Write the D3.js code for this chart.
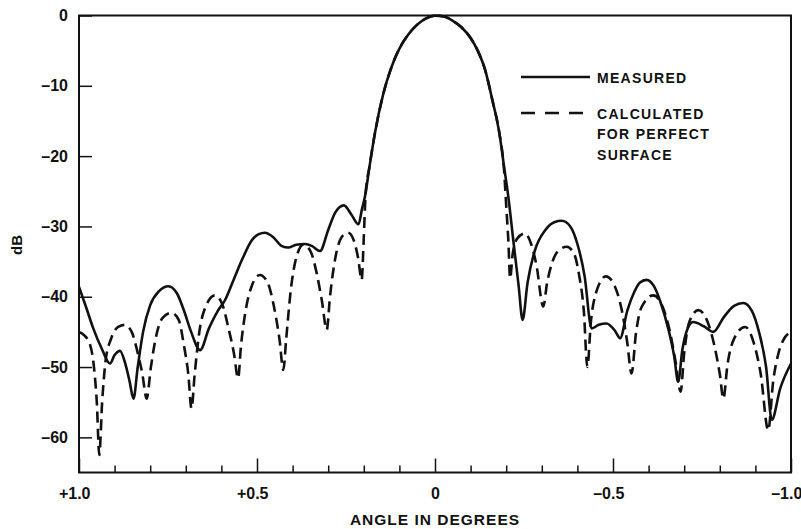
<!DOCTYPE html>
<html><head><meta charset="utf-8">
<script src="https://cdn.jsdelivr.net/npm/d3@7"></script>
<style>
body{margin:0;background:#fff;}
text{font-family:"Liberation Sans",Arial,sans-serif;fill:#111;font-weight:bold;}
</style></head><body>
<svg id="chart" width="801" height="529"></svg>
<script>
// ---- data (angle in degrees, level in dB) ----
const measuredAngle = [1.0,0.98,0.96,0.935,0.913,0.9,0.885,0.87,0.858,0.847,0.835,0.82,0.8,0.775,0.749,0.725,0.705,0.685,0.66,0.635,0.61,0.59,0.565,0.54,0.515,0.495,0.478,0.455,0.43,0.412,0.39,0.365,0.345,0.323,0.3,0.28,0.256,0.235,0.215,0.205,0.197,0.184,0.169,0.145,0.122,0.1,0.075,0.05,0.025,0.0,-0.025,-0.05,-0.075,-0.1,-0.12,-0.14,-0.161,-0.181,-0.194,-0.206,-0.22,-0.235,-0.246,-0.26,-0.28,-0.31,-0.335,-0.356,-0.38,-0.4,-0.42,-0.44,-0.46,-0.482,-0.505,-0.52,-0.54,-0.56,-0.575,-0.594,-0.615,-0.635,-0.655,-0.672,-0.683,-0.695,-0.71,-0.725,-0.755,-0.782,-0.81,-0.84,-0.866,-0.89,-0.91,-0.93,-0.946,-0.97,-1.0];
const measuredDb = [-38.6,-41.5,-44.5,-47.5,-49.5,-48.3,-47.7,-49.5,-52,-54.5,-50,-45,-41.2,-39.2,-38.5,-39.5,-42,-45,-47.6,-44.5,-42,-40.5,-37.5,-34.5,-32,-31.1,-30.9,-31.5,-32.8,-33.0,-32.6,-32.5,-32.8,-33.5,-30.5,-28,-27.0,-28.3,-29.7,-27.5,-25.8,-21.5,-16.8,-11.1,-7.3,-4.7,-2.7,-1.3,-0.4,-0.02,-0.15,-0.75,-1.7,-3.2,-5.0,-7.6,-12.0,-16.8,-21.5,-25.8,-32,-38.5,-43.3,-38,-33.5,-30.5,-29.4,-29.2,-30,-32.5,-37,-44.5,-44,-43.8,-44.8,-45.9,-42,-39.3,-38,-37.6,-38.5,-41,-44.5,-48.5,-52.1,-47.5,-44.5,-43.6,-44.2,-45.0,-43,-41.3,-40.9,-42,-45,-50,-57.5,-53,-49.5];

const calculatedAngle = [1.0,0.985,0.969,0.958,0.95,0.943,0.935,0.925,0.91,0.89,0.871,0.852,0.835,0.822,0.81,0.798,0.785,0.765,0.74,0.72,0.705,0.693,0.684,0.675,0.662,0.645,0.618,0.598,0.58,0.565,0.553,0.545,0.532,0.515,0.492,0.47,0.452,0.437,0.426,0.418,0.405,0.39,0.37,0.35,0.333,0.318,0.304,0.295,0.28,0.262,0.244,0.228,0.216,0.206,0.2,0.195,0.184,0.169,0.145,0.122,0.1,0.075,0.05,0.025,0.0,-0.025,-0.05,-0.075,-0.1,-0.12,-0.14,-0.161,-0.181,-0.194,-0.2,-0.206,-0.211,-0.218,-0.23,-0.253,-0.27,-0.285,-0.304,-0.315,-0.33,-0.35,-0.37,-0.39,-0.405,-0.418,-0.428,-0.438,-0.452,-0.48,-0.505,-0.525,-0.54,-0.552,-0.565,-0.58,-0.613,-0.64,-0.66,-0.675,-0.69,-0.7,-0.715,-0.74,-0.765,-0.785,-0.8,-0.81,-0.822,-0.84,-0.871,-0.895,-0.915,-0.936,-0.95,-0.965,-0.978,-1.0];
const calculatedDb = [-45.0,-45.5,-46.8,-50,-55,-62.5,-55,-49,-46,-44.3,-44.0,-45,-48,-51,-54.5,-50,-46,-43,-42.3,-43.3,-47,-51,-55.9,-51,-45,-41.5,-39.8,-41,-44.5,-48,-51.6,-47,-42,-38.5,-36.9,-38,-41.5,-46,-50.4,-46,-39,-34.5,-32.6,-33.5,-36.5,-40.5,-44.7,-40,-34.5,-31.5,-30.9,-32,-34.5,-37.6,-31.5,-25.5,-21.5,-16.8,-11.1,-7.3,-4.7,-2.7,-1.3,-0.4,-0.02,-0.15,-0.75,-1.7,-3.2,-5.0,-7.6,-12.0,-16.8,-22,-27,-32,-37.4,-34,-31.8,-31.0,-32.5,-35.5,-41.4,-38,-35,-33.3,-32.9,-33.8,-37,-42,-50.0,-43.5,-39.5,-37.1,-38.5,-42,-46.5,-50.9,-45,-41.5,-39.8,-41.5,-45,-49,-53.5,-48,-43.5,-41.9,-43.5,-47,-51,-54.5,-49.5,-46,-44.3,-46.5,-51,-59.0,-52,-48,-46.2,-45.0];

const yTicks = [0,-10,-20,-30,-40,-50,-60];
const yTickLabels = ["0","–10","–20","–30","–40","–50","–60"];
const xMajorTicks = [1.0,0.5,0,-0.5,-1.0];
const xMajorLabels = ["+1.0","+0.5","0","–0.5","–1.0"];
const xMinorTicks = [0.9,0.8,0.7,0.6,0.4,0.3,0.2,0.1,-0.1,-0.2,-0.3,-0.4,-0.6,-0.7,-0.8,-0.9];
const legendLabels = ["MEASURED",["CALCULATED","FOR PERFECT","SURFACE"]];
const xTitle = "ANGLE IN DEGREES";
const yTitle = "dB";

// ---- layout ----
const L=79, R=791, T=15.5, B=472.5;
const svg = d3.select("#chart");
const x = d3.scaleLinear().domain([1,-1]).range([L,R]);
const y = d3.scaleLinear().domain([-65,0]).range([B,T]);

// frame
svg.append("rect").attr("x",L).attr("y",T).attr("width",R-L).attr("height",B-T)
  .attr("fill","none").attr("stroke","#111").attr("stroke-width",2);

// y axis
const yAxis = d3.axisLeft(y).tickValues(yTicks).tickSize(-13).tickPadding(11)
  .tickFormat((d,i)=>yTickLabels[i]);
const gy = svg.append("g").attr("transform",`translate(${L},0)`).call(yAxis);
gy.select(".domain").remove();
gy.selectAll("line").attr("stroke","#111").attr("stroke-width",1.5);
gy.selectAll("text").style("font-size","16px").style("font-family","'Liberation Sans',Arial,sans-serif").attr("fill","#111");

// x axis minor
const gxm = svg.append("g").attr("transform",`translate(0,${B})`)
  .call(d3.axisBottom(x).tickValues(xMinorTicks).tickSize(-7).tickFormat(""));
gxm.select(".domain").remove();
gxm.selectAll("line").attr("stroke","#111").attr("stroke-width",1.5);
// x axis major
const gx = svg.append("g").attr("transform",`translate(0,${B})`)
  .call(d3.axisBottom(x).tickValues(xMajorTicks).tickSize(-14).tickPadding(15)
  .tickFormat((d,i)=>xMajorLabels[i]));
gx.select(".domain").remove();
gx.selectAll("line").attr("stroke","#111").attr("stroke-width",1.5);
gx.selectAll("text").style("font-size","16px").style("font-family","'Liberation Sans',Arial,sans-serif").attr("fill","#111")
  .attr("dx",(d,i)=> xMajorLabels[i].length>1 ? "-0.3em" : 0);

// titles
svg.append("text").attr("x",x(0)).attr("y",524.5).attr("text-anchor","middle")
  .style("font-size","15.5px").style("letter-spacing","1px").text(xTitle);
svg.append("text").attr("transform","translate(22,245) rotate(-90)").attr("text-anchor","middle")
  .style("font-size","15px").text(yTitle);

// curves
const line = d3.line().x(d=>x(d[0])).y(d=>y(d[1])).curve(d3.curveMonotoneX);
const measured = measuredAngle.map((a,i)=>[a,measuredDb[i]]);
const calculated = calculatedAngle.map((a,i)=>[a,calculatedDb[i]]);
svg.append("clipPath").attr("id","pc").append("rect")
  .attr("x",L).attr("y",T-2).attr("width",R-L).attr("height",B-T+2);
svg.append("path").datum(calculated).attr("d",line).attr("fill","none")
  .attr("stroke","#111").attr("stroke-width",2.6).attr("stroke-dasharray","11,6")
  .attr("clip-path","url(#pc)");
svg.append("path").datum(measured).attr("d",line).attr("fill","none")
  .attr("stroke","#111").attr("stroke-width",2.6).attr("clip-path","url(#pc)");

// legend
const lg = svg.append("g");
lg.append("line").attr("x1",521).attr("x2",590).attr("y1",77).attr("y2",77)
  .attr("stroke","#111").attr("stroke-width",2.6);
lg.append("text").attr("x",597).attr("y",82.5).style("font-size","14px")
  .style("letter-spacing","1.3px").text(legendLabels[0]);
lg.append("line").attr("x1",521).attr("x2",590).attr("y1",113).attr("y2",113)
  .attr("stroke","#111").attr("stroke-width",2.6).attr("stroke-dasharray","14,10");
legendLabels[1].forEach((t,i)=>{
  lg.append("text").attr("x",597).attr("y",118.5+i*20.5).style("font-size","14px")
    .style("letter-spacing","1.3px").text(t);
});
</script></body></html>
